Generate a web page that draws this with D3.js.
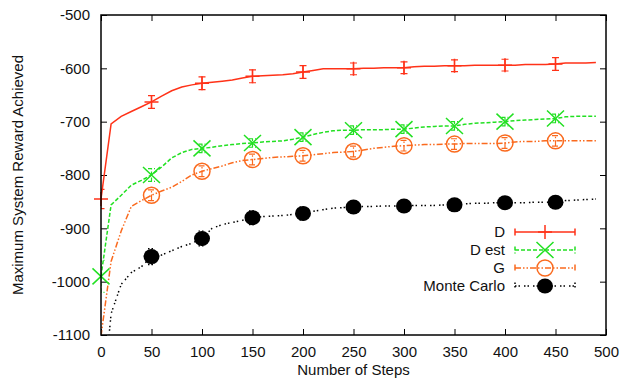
<!DOCTYPE html>
<html>
<head>
<meta charset="utf-8">
<script src="https://cdn.jsdelivr.net/npm/d3@7"></script>
<style>
  body { margin: 0; background: #fff; }
  text { font-family: "Liberation Sans", Arial, sans-serif; }
</style>
</head>
<body>
<div id="chart-container"></div>
<script>
// data
const steps = [0, 10, 20, 30, 40, 50, 60, 70, 80, 90, 100, 110, 120, 130, 140, 150, 160, 170, 180, 190,
  200, 210, 220, 230, 240, 250, 260, 270, 280, 290, 300, 310, 320, 330, 340, 350, 360, 370, 380, 390,
  400, 410, 420, 430, 440, 450, 460, 470, 480, 490];

const dLine = [-845, -704, -690, -681, -672, -663, -652, -642, -635, -631, -628, -626, -624, -622, -618, -615, -614, -613, -612, -610,
  -607, -604, -601, -601, -601, -601, -600, -600, -599, -599, -599, -597, -596, -596, -595, -595, -595, -594, -594, -594,
  -594, -594, -593, -593, -593, -592, -590, -590, -590, -589];
const dEstLine = [-990, -856, -838, -819, -810, -800, -785, -768, -758, -752, -750, -748, -745, -743, -741, -740, -738, -737, -736, -733,
  -729, -724, -720, -717, -716, -716, -715, -715, -715, -714, -714, -712, -710, -709, -708, -708, -705, -703, -702, -701,
  -700, -698, -697, -696, -695, -694, -691, -690, -690, -690];
const gLine = [-1102, -962, -905, -859, -848, -838, -830, -823, -812, -800, -793, -788, -783, -777, -773, -771, -769, -767, -766, -765,
  -764, -762, -760, -758, -757, -756, -753, -750, -748, -746, -745, -744, -743, -743, -742, -742, -741, -741, -741, -741,
  -740, -738, -737, -737, -736, -736, -736, -736, -736, -736];
const mcLine = [-1260, -1060, -1005, -983, -972, -953, -950, -942, -934, -928, -919, -900, -893, -889, -885, -880, -878, -877, -876, -874,
  -872, -868, -865, -862, -861, -860, -859, -859, -858, -858, -858, -857, -857, -857, -856, -856, -854, -853, -853, -852,
  -852, -852, -852, -851, -851, -851, -848, -847, -846, -845];

// points with error bars
const markSteps = [0, 50, 100, 150, 200, 250, 300, 350, 400, 450];
const dMarks = [-845, -663, -628, -615, -607, -601, -599, -595, -594, -592];
const dErr = [18, 12, 12, 12, 12, 11, 11, 11, 11, 12];
const dEstMarks = [-990, -800, -750, -740, -729, -716, -714, -708, -700, -694];
const dEstErr = [30, 12, 8, 8, 8, 8, 8, 8, 8, 8];
const gMarks = [-1102, -838, -793, -771, -764, -756, -745, -742, -740, -736];
const gErr = [12, 10, 10, 10, 10, 10, 10, 10, 10, 10];
const mcMarks = [-1260, -953, -919, -880, -872, -860, -858, -856, -852, -851];
const mcErr = [15, 15, 14, 13, 12, 10, 10, 10, 10, 10];

const seriesNames = ["D", "D est", "G", "Monte Carlo"];
const xTicks = [0, 50, 100, 150, 200, 250, 300, 350, 400, 450, 500];
const yTicks = [-500, -600, -700, -800, -900, -1000, -1100];

// sizing
const width = 623,
  height = 381;
const plot = { left: 101, right: 606, top: 15, bottom: 335 };

const svg = d3.select("#chart-container")
  .append("svg")
  .attr("width", width)
  .attr("height", height);

// scales
const x = d3.scaleLinear().domain([0, 500]).range([plot.left, plot.right]);
const y = d3.scaleLinear().domain([-1100, -500]).range([plot.bottom, plot.top]);

// axes (ticks point inward, mirrored on top and right)
const axisStyle = g => {
  g.select(".domain").remove();
  g.selectAll(".tick line").attr("stroke", "#000").attr("stroke-width", 1);
  g.selectAll("text").attr("font-size", "15px").attr("fill", "#111");
};

svg.append("g")
  .attr("transform", `translate(0,${plot.bottom})`)
  .call(d3.axisBottom(x).tickValues(xTicks).tickSize(-6).tickPadding(11).tickFormat(d => String(d)))
  .call(axisStyle);
svg.append("g")
  .attr("transform", `translate(${plot.left},0)`)
  .call(d3.axisLeft(y).tickValues(yTicks).tickSize(-6).tickPadding(11).tickFormat(d => String(d)))
  .call(axisStyle);
svg.append("g")
  .attr("transform", `translate(0,${plot.top})`)
  .call(d3.axisTop(x).tickValues(xTicks).tickSize(-6).tickFormat(""))
  .call(axisStyle);
svg.append("g")
  .attr("transform", `translate(${plot.right},0)`)
  .call(d3.axisRight(y).tickValues(yTicks).tickSize(-6).tickFormat(""))
  .call(axisStyle);

// axis titles
svg.append("text")
  .attr("x", (plot.left + plot.right) / 2)
  .attr("y", 375)
  .attr("text-anchor", "middle")
  .attr("font-size", "15px")
  .attr("fill", "#111")
  .text("Number of Steps");
svg.append("text")
  .attr("transform", `translate(18,${(plot.top + plot.bottom) / 2}) rotate(-90)`)
  .attr("text-anchor", "middle")
  .attr("dy", "0.35em")
  .attr("font-size", "15px")
  .attr("fill", "#111")
  .text("Maximum System Reward Achieved");

// clip to plot area
svg.append("clipPath")
  .attr("id", "clip")
  .append("rect")
  .attr("x", plot.left)
  .attr("y", plot.top)
  .attr("width", plot.right - plot.left)
  .attr("height", plot.bottom - plot.top);

// series styles
const series = [
  { name: seriesNames[0], line: dLine, marks: dMarks, err: dErr, color: "#ff3218", dash: null, marker: "plus" },
  { name: seriesNames[1], line: dEstLine, marks: dEstMarks, err: dEstErr, color: "#22e022", dash: "4,2", marker: "cross" },
  { name: seriesNames[2], line: gLine, marks: gMarks, err: gErr, color: "#fa6a1e", dash: "6,2,1.5,2,1.5,2", marker: "circle" },
  { name: seriesNames[3], line: mcLine, marks: mcMarks, err: mcErr, color: "#000", dash: "1.5,2,1.5,4", marker: "dot" }
];

const line = d3.line()
  .x((d, i) => x(steps[i]))
  .y(d => y(d));

const plotG = svg.append("g").attr("clip-path", "url(#clip)");

// draw marker at (cx, cy)
function drawMarker(g, s, cx, cy) {
  if (s.marker === "plus") {
    g.append("path")
      .attr("d", `M${cx - 7},${cy}H${cx + 7}M${cx},${cy - 7}V${cy + 7}`)
      .attr("stroke", s.color).attr("stroke-width", 1.5).attr("fill", "none");
  } else if (s.marker === "cross") {
    g.append("path")
      .attr("d", `M${cx - 8.5},${cy - 8}L${cx + 8.5},${cy + 8}M${cx - 8.5},${cy + 8}L${cx + 8.5},${cy - 8}`)
      .attr("stroke", s.color).attr("stroke-width", 1.5).attr("fill", "none");
  } else if (s.marker === "circle") {
    g.append("circle")
      .attr("cx", cx).attr("cy", cy).attr("r", 8)
      .attr("stroke", s.color).attr("stroke-width", 1.5).attr("fill", "none");
  } else {
    g.append("ellipse")
      .attr("cx", cx).attr("cy", cy).attr("rx", 8).attr("ry", 7.5)
      .attr("fill", s.color);
  }
}

series.forEach(s => {
  // line
  plotG.append("path")
    .datum(s.line)
    .attr("d", line)
    .attr("fill", "none")
    .attr("stroke", s.color)
    .attr("stroke-width", 1.5)
    .attr("stroke-dasharray", s.dash);

  // error bars and markers (points outside the range are skipped)
  s.marks.forEach((v, i) => {
    if (v < -1100 || v > -500) return;
    const cx = x(markSteps[i]);
    const lo = y(v - s.err[i]), hi = y(v + s.err[i]);
    plotG.append("path")
      .attr("d", `M${cx},${lo}V${hi}M${cx - 3.5},${lo}H${cx + 3.5}M${cx - 3.5},${hi}H${cx + 3.5}`)
      .attr("stroke", s.color)
      .attr("stroke-width", 1.2)
      .attr("stroke-dasharray", s.dash)
      .attr("fill", "none");
    drawMarker(svg, s, cx, y(v));
  });
});

// border
svg.append("rect")
  .attr("x", plot.left)
  .attr("y", plot.top)
  .attr("width", plot.right - plot.left)
  .attr("height", plot.bottom - plot.top)
  .attr("fill", "none")
  .attr("stroke", "#000")
  .attr("stroke-width", 1.5);

// legend
const legend = svg.append("g");
series.forEach((s, i) => {
  const ly = 232 + i * 18;
  legend.append("text")
    .attr("x", 505)
    .attr("y", ly)
    .attr("dy", "0.35em")
    .attr("text-anchor", "end")
    .attr("font-size", "15px")
    .attr("fill", "#111")
    .text(s.name);
  legend.append("path")
    .attr("d", `M515,${ly}H575M515,${ly - 3.5}V${ly + 3.5}M575,${ly - 3.5}V${ly + 3.5}`)
    .attr("stroke", s.color)
    .attr("stroke-width", 1.5)
    .attr("stroke-dasharray", s.dash)
    .attr("fill", "none");
  drawMarker(legend, s, 545, ly);
});
</script>
</body>
</html>
